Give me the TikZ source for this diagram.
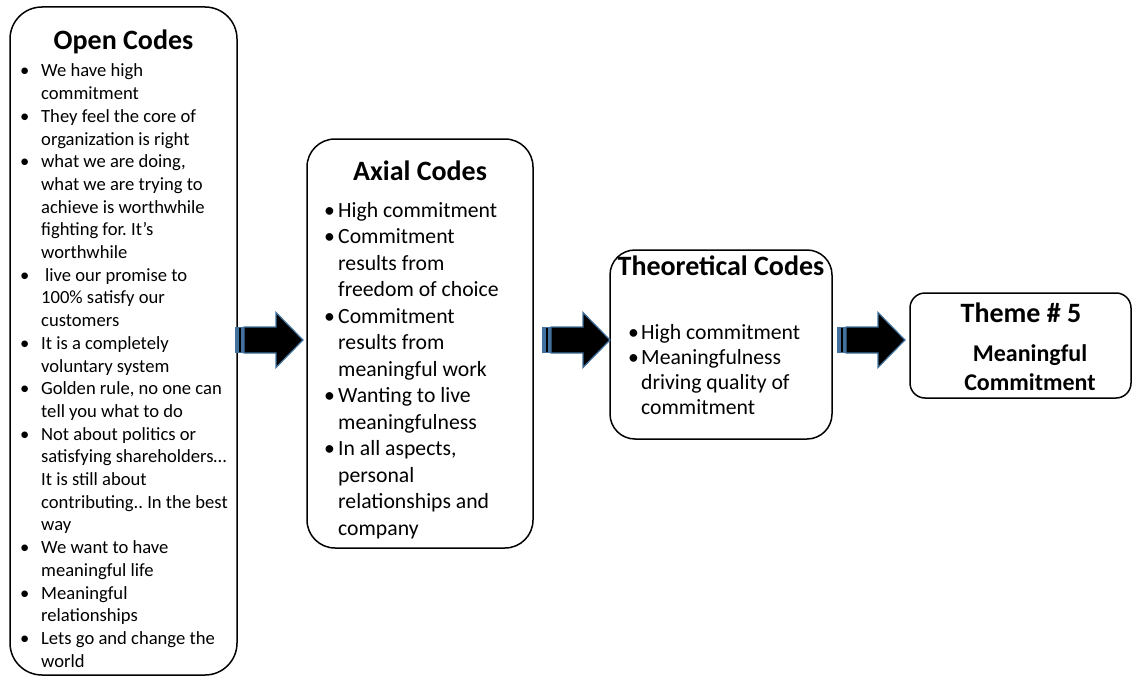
\documentclass[tikz,border=0pt]{standalone}
\usepackage{fontspec}
\setmainfont{Carlito}
\usetikzlibrary{calc}
\definecolor{arrowblue}{HTML}{41719C}
\frenchspacing
\newlength\bulw
\newlength\bulshift
\newcommand\bul{\makebox[\bulw][l]{\hspace*{\bulshift}•}}
\newcommand\cont{\hspace*{\bulw}}
\begin{document}
\begin{tikzpicture}[x=1pt,y=-1pt,
  box/.style={draw=black, line width=1.5pt, rounded corners=#1, inner sep=0pt},
  title/.style={font=\bfseries\fontsize{28}{33}\selectfont, inner sep=0pt, anchor=base},
  listtext/.style={inner sep=0pt, anchor=base west, text width=300pt, align=flush left},
  stripearrow/.pic={
    \fill[arrowblue] (0,-13) rectangle (9,13);
    \fill[black] (4.4,-12) rectangle (5.8,12);
    \filldraw[fill=black, draw=arrowblue, line width=1.2pt, line join=miter]
      (9,-13) -- (41,-13) -- (41,-27.5) -- (68,0) -- (41,27.5) -- (41,13) -- (9,13) -- cycle;
  }]
\useasboundingbox (0,0) rectangle (1133,677);

% the four stages
\node[box=32, minimum width=227, minimum height=668] (open) at (123.5,341) {};
\node[box=28, minimum width=226, minimum height=409] (axial) at (420,343.5) {};
\node[box=25, minimum width=222, minimum height=189] (theo) at (721,344.5) {};
\node[box=15, minimum width=221, minimum height=105] (theme) at (1020.5,345.5) {};

% block arrows between the stages
\coordinate (mid) at (0,340);
\pic at ($(open.east |- mid)+(-2.75,0)$) {stripearrow};
\pic at ($(axial.east |- mid)+(8.25,0)$) {stripearrow};
\pic at ($(theo.east |- mid)+(4.25,0)$) {stripearrow};

% titles
\node[title] (opentitle) at (123.5,50) {Open Codes};
\node[title] (axialtitle) at (420,180) {Axial Codes};
\node[title] (theotitle) at (721,275) {Theoretical Codes};
\node[title] (themetitle) at (1021,322) {Theme \# 5};
\node[inner sep=0pt, anchor=base, text width=180pt, align=center,
      font=\bfseries\fontsize{24}{29}\selectfont] (themename) at (1030,361)
      {Meaningful\\Commitment};

% open codes
\node[listtext, font=\fontsize{18.6}{22.7}\selectfont\setlength\bulw{18pt}\setlength\bulshift{-3pt}] (openlist) at (23,77) {%
\bul We have high\\
\cont commitment\\
\bul They feel the core of\\
\cont organization is right\\
\bul what we are doing,\\
\cont what we are trying to\\
\cont achieve is worthwhile\\
\cont fighting for. It’s\\
\cont worthwhile\\
\bul\hspace{4pt}live our promise to\\
\cont 100\% satisfy our\\
\cont customers\\
\bul It is a completely\\
\cont voluntary system\\
\bul Golden rule, no one can\\
\cont tell you what to do\\
\bul Not about politics or\\
\cont satisfying shareholders…\\
\cont It is still about\\
\cont contributing.. In the best\\
\cont way\\
\bul We want to have\\
\cont meaningful life\\
\bul Meaningful\\
\cont relationships\\
\bul Lets go and change the\\
\cont world};

% axial codes
\node[listtext, font=\fontsize{21.7}{26.5}\selectfont\setlength\bulw{11pt}\setlength\bulshift{-3pt}] (axiallist) at (327,217) {%
\bul High commitment\\
\bul Commitment\\
\cont results from\\
\cont freedom of choice\\
\bul Commitment\\
\cont results from\\
\cont meaningful work\\
\bul Wanting to live\\
\cont meaningfulness\\
\bul In all aspects,\\
\cont personal\\
\cont relationships and\\
\cont company};

% theoretical codes
\node[listtext, font=\fontsize{21.7}{25.3}\selectfont\setlength\bulw{11pt}\setlength\bulshift{-2pt}] (theolist) at (630,339) {%
\bul High commitment\\
\bul Meaningfulness\\
\cont driving quality of\\
\cont commitment};
\end{tikzpicture}
\end{document}
